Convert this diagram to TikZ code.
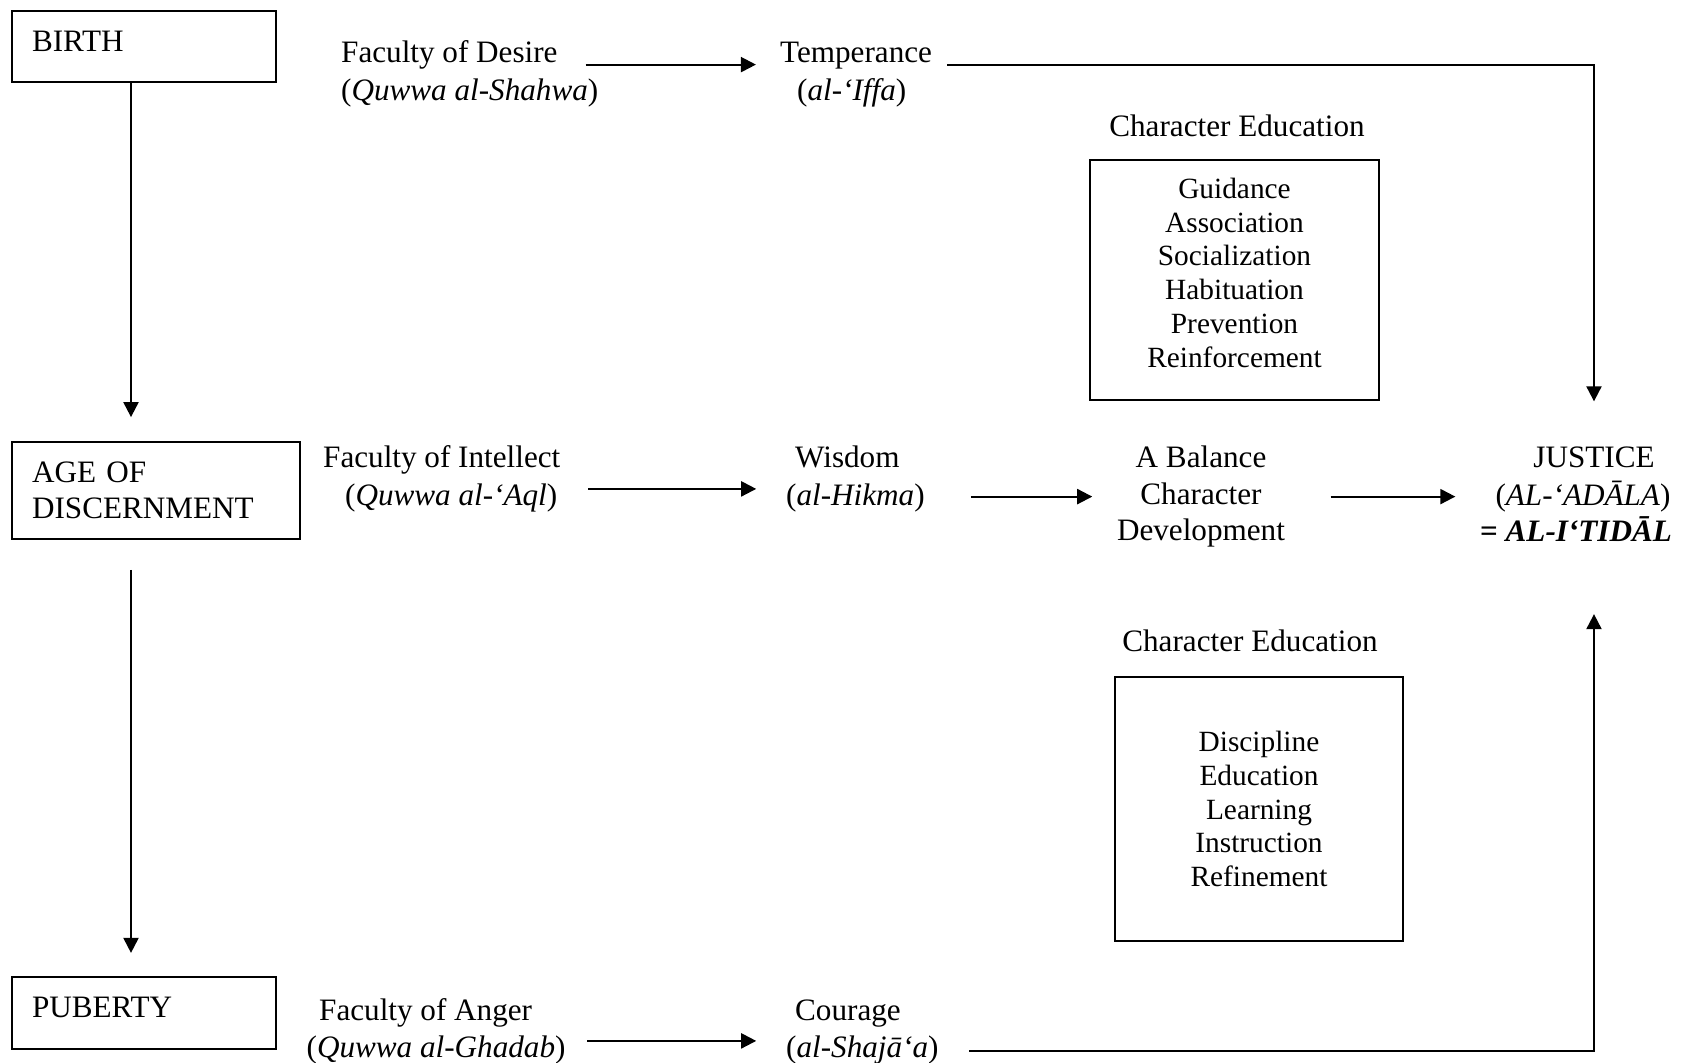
\documentclass[tikz,border=0pt]{standalone}
\usepackage{fontspec}
\setmainfont{Liberation Serif}
\usepackage{tikz}
\usetikzlibrary{arrows.meta,positioning,calc}

\begin{document}
\begin{tikzpicture}[x=0.385pt,y=-0.385pt,
  every node/.style={font=\fontsize{12}{14}\selectfont},
  stage/.style={draw, line width=0.8pt, anchor=north west, align=left, inner xsep=7.7pt},
  lab/.style={anchor=base west},
  flow/.style={line width=0.8pt, -{Triangle[length=5.8pt,width=5.8pt]}},
  edubox/.style={draw, line width=0.8pt, align=center, font=\fontsize{11.3}{13}\selectfont}]
\useasboundingbox (0,0) rectangle (1686,1062);

% stages of life
\node[stage, text width=86.2pt, minimum height=27.3pt, text depth=4.2pt] (birth) at (11,10) {BIRTH};
\node[stage, text width=95.5pt, minimum height=37.3pt] (age) at (11,441) {AGE OF\\DISCERNMENT};
\node[stage, text width=86.2pt, minimum height=27.7pt, text depth=4.2pt] (puberty) at (11,976) {PUBERTY};

% faculties and virtues
\node[lab] (desire) at (332,62) {Faculty of Desire};
\node[lab] (shahwa) at (332,100) {(\textit{Quwwa al-Shahwa})};
\node[lab] (temper) at (771,62) {Temperance};
\node[lab] (iffa) at (788,100) {(\textit{al-‘Iffa})};

\node[lab] (intellect) at (314,467.5) {Faculty of Intellect};
\node[lab] (aql) at (336,505) {(\textit{Quwwa al-‘Aql})};
\node[lab] (wisdom) at (786,467.5) {Wisdom};
\node[lab] (hikma) at (777,505) {(\textit{al-Hikma})};

\node[lab] (anger) at (310,1020) {Faculty of Anger};
\node[lab] (ghadab) at (297.5,1057) {(\textit{Quwwa al-Ghadab})};
\node[lab] (courage) at (786,1020) {Courage};
\node[lab] (shaja) at (777,1057) {(\textit{al-Shajā‘a})};

% balance and justice
\node[align=center] (balance) at (1201,496.6) {A Balance\\Character\\Development};
\node[anchor=base] (justice) at (1594,467.5) {JUSTICE};
\node[anchor=base] (adala) at (1583,505) {(\textit{AL-‘ADĀLA})};
\node[anchor=base] (itidal) at (1576,541) {\textbf{= \textit{AL-I‘TIDĀL}}};

% character education
\node[anchor=base] (ceA) at (1237,136.5) {Character Education};
\node[edubox, minimum width=111.3pt, minimum height=92.4pt] (boxA) at (1234.5,280)
  {\begin{tabular}{@{}c@{}}Guidance\\Association\\Socialization\\Habituation\\Prevention\\Reinforcement\\[3pt]\end{tabular}};
\node[anchor=base] (ceB) at (1250,651.5) {Character Education};
\node[edubox, minimum width=110.9pt, minimum height=101.6pt] (boxB) at (1259,809)
  {Discipline\\Education\\Learning\\Instruction\\Refinement};

% arrows
\draw[flow, shorten >=9.2pt] ([xshift=-5pt]birth.south) -- ([xshift=-5pt]birth.south |- age.north);
\draw[flow, shorten <=11.5pt, shorten >=8.9pt] ([xshift=-5pt]birth.south |- age.south) -- ([xshift=-5pt]birth.south |- puberty.north);

\draw[flow, shorten <=7.3pt, shorten >=5.8pt] ([yshift=-1pt]desire.base east) -- ([yshift=-1pt]temper.base west);
\draw[flow, shorten <=2.4pt, shorten >=14pt] ([yshift=-1pt]temper.base east) -| (justice.north);

\draw[flow, shorten <=8.3pt, shorten >=8pt] ([yshift=6.2pt]aql.base east) -- ([yshift=6.2pt]hikma.base west);
\draw[flow, shorten <=14.3pt, shorten >=6pt] (hikma.east |- balance.west) -- (balance.west);
\draw[flow, shorten <=14pt, shorten >=6pt] (balance.east) -- (balance.east -| itidal.west);

\draw[flow, shorten <=4.8pt, shorten >=8pt] ([yshift=6.2pt]ghadab.base east) -- ([yshift=6.2pt]shaja.base west);
\draw[flow, shorten <=8.2pt, shorten >=24.6pt] ([yshift=2.3pt]shaja.base east) -| (justice |- itidal.south);
\end{tikzpicture}
\end{document}
